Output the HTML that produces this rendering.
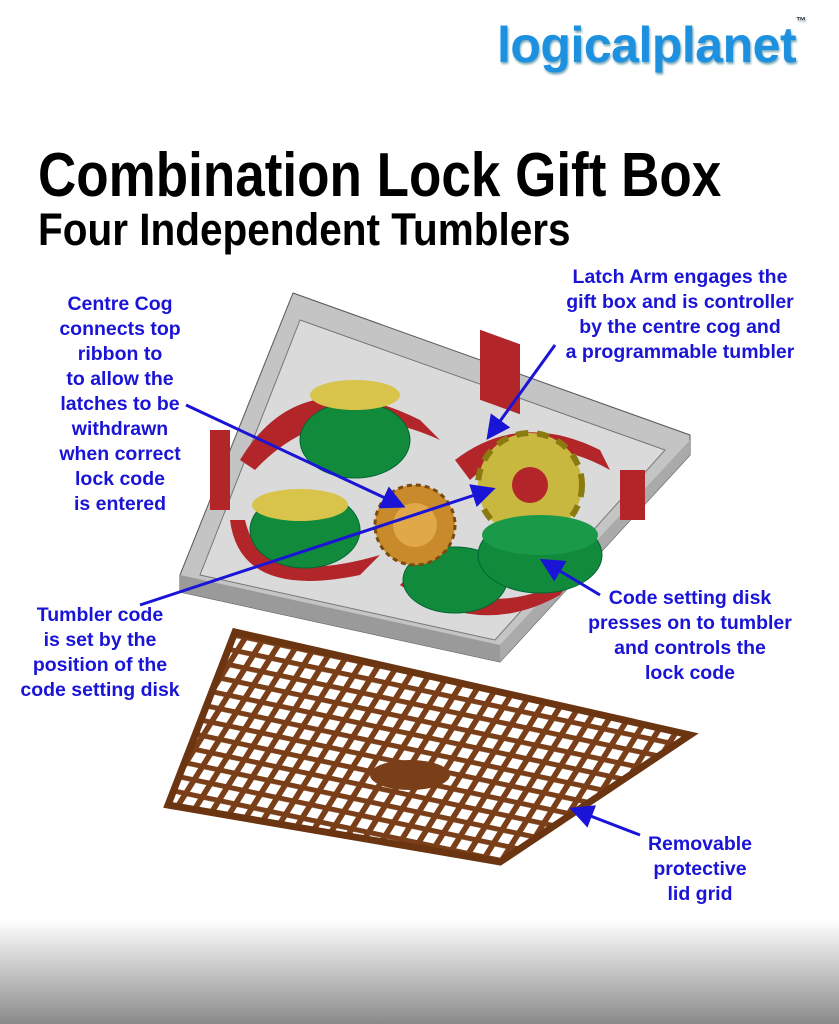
<!DOCTYPE html>
<html><head><meta charset="utf-8"><style>
body{margin:0;width:839px;height:1024px;overflow:hidden;background:#fff;position:relative;font-family:"Liberation Sans",sans-serif}
.bg{position:absolute;left:0;top:920px;width:839px;height:104px;background:linear-gradient(#fff,#8a8a8a)}
.t{position:absolute;font-weight:bold;color:#000;transform-origin:0 0;white-space:nowrap}
.lab{position:absolute;color:#1a14d6;font-weight:bold;font-size:19.5px;line-height:25px;text-align:center;white-space:nowrap}
.logo{position:absolute;left:497px;top:16px;font-size:50px;font-weight:bold;color:#1e90e0;letter-spacing:-0.5px;text-shadow:1px 2px 2px #7ab}
</style></head><body>
<div class="bg"></div>
<div class="logo">logicalplanet<span style="font-size:10px;vertical-align:top;color:#333">™</span></div>
<div class="t" style="left:38px;top:140px;font-size:62px;transform:scaleX(0.855)">Combination Lock Gift Box</div>
<div class="t" style="left:38px;top:204px;font-size:45px;transform:scaleX(0.90)">Four Independent Tumblers</div>
<svg width="839" height="1024" style="position:absolute;left:0;top:0">
<defs><marker id="a" markerWidth="8" markerHeight="8" refX="6" refY="4" orient="auto"><path d="M0,0L8,4L0,8z" fill="#1a14d6"/></marker>
<pattern id="g" width="17" height="15" patternUnits="userSpaceOnUse" patternTransform="rotate(12) skewX(-20)"><rect width="17" height="15" fill="#fff"/><rect x="0" y="0" width="17" height="5" fill="#7a3f18"/><rect x="0" y="0" width="6" height="15" fill="#7a3f18"/></pattern></defs>
<!-- box -->
<polygon points="293,293 690,435 690,455 500,662 180,592 180,575" fill="#c4c4c4" stroke="#555"/>
<polygon points="300,320 665,450 495,640 200,575" fill="#dadada" stroke="#777"/>
<polygon points="180,575 500,645 500,662 180,592" fill="#9a9a9a"/>
<polygon points="500,645 690,440 690,455 500,662" fill="#aaa"/>
<!-- red parts -->
<path d="M240,460 Q300,360 420,420 L440,440 Q330,390 255,470z" fill="#b2262a"/>
<path d="M455,460 Q520,410 600,450 L610,470 Q530,425 470,480z" fill="#b2262a"/>
<path d="M230,520 Q240,600 360,575 L380,555 Q260,590 245,520z" fill="#b2262a"/>
<path d="M400,585 Q480,640 560,595 L575,575 Q490,625 415,570z" fill="#b2262a"/>
<rect x="480" y="330" width="40" height="70" fill="#b2262a" transform="skewY(20) translate(0,-175)"/>
<rect x="210" y="430" width="20" height="80" fill="#b2262a"/>
<rect x="620" y="470" width="25" height="50" fill="#b2262a"/>
<!-- green disks -->
<ellipse cx="355" cy="440" rx="55" ry="38" fill="#128a3c" stroke="#063"/>
<ellipse cx="355" cy="395" rx="45" ry="15" fill="#d8c44a"/>
<ellipse cx="305" cy="530" rx="55" ry="38" fill="#128a3c" stroke="#063"/>
<ellipse cx="300" cy="505" rx="48" ry="16" fill="#d8c44a"/>
<ellipse cx="455" cy="580" rx="52" ry="33" fill="#128a3c" stroke="#063"/>
<!-- cogs -->
<circle cx="415" cy="525" r="40" fill="#c88a2a" stroke="#7a4a10" stroke-width="3" stroke-dasharray="5 4"/>
<circle cx="415" cy="525" r="22" fill="#e0a848"/>
<circle cx="530" cy="485" r="52" fill="#c8b840" stroke="#8a7a10" stroke-width="6" stroke-dasharray="12 9"/>
<circle cx="530" cy="485" r="18" fill="#b2262a"/>
<ellipse cx="540" cy="555" rx="62" ry="38" fill="#128a3c" stroke="#063"/>
<ellipse cx="540" cy="535" rx="58" ry="20" fill="#1a9a48"/>
<!-- grid -->
<polygon points="235,632 690,735 500,862 168,805" fill="url(#g)" stroke="#6a3510" stroke-width="7"/>
<ellipse cx="410" cy="775" rx="40" ry="15" fill="#7a3f18"/>
<!-- arrows -->
<g stroke="#1a14d6" stroke-width="3" marker-end="url(#a)">
<line x1="186" y1="405" x2="400" y2="505"/>
<line x1="140" y1="605" x2="490" y2="490"/>
<line x1="555" y1="345" x2="490" y2="435"/>
<line x1="600" y1="595" x2="545" y2="562"/>
<line x1="640" y1="835" x2="575" y2="810"/>
</g>
</svg>
<div class="lab" style="left:40px;top:292px;width:160px">Centre Cog<br>connects top<br>ribbon to<br>to allow the<br>latches to be<br>withdrawn<br>when correct<br>lock code<br>is entered</div>
<div class="lab" style="left:555px;top:265px;width:250px">Latch Arm engages the<br>gift box and is controller<br>by the centre cog and<br>a programmable tumbler</div>
<div class="lab" style="left:5px;top:603px;width:190px">Tumbler code<br>is set by the<br>position of the<br>code setting disk</div>
<div class="lab" style="left:570px;top:586px;width:240px">Code setting disk<br>presses on to tumbler<br>and controls the<br>lock code</div>
<div class="lab" style="left:630px;top:832px;width:140px">Removable<br>protective<br>lid grid</div>
</body></html>
